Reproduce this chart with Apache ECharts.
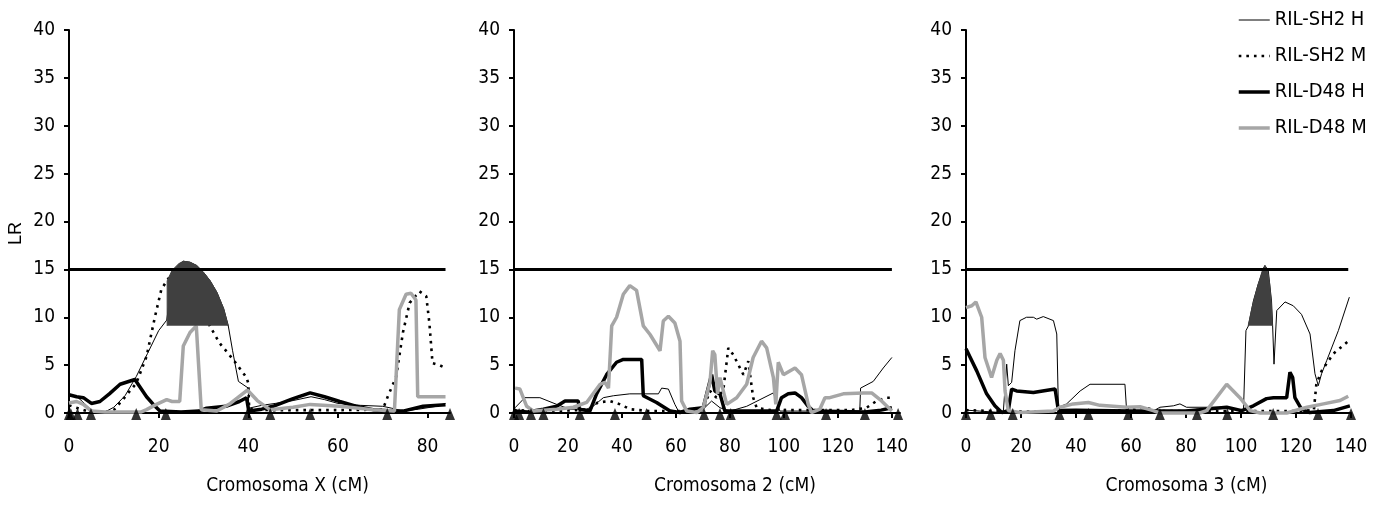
<!doctype html>
<html>
<head>
<meta charset="utf-8">
<title>LR - Cromosomas</title>
<style>
  html, body { margin: 0; padding: 0; background: #fff; }
  #main { width: 1379px; height: 509px; }
</style>
</head>
<body>
<div id="main"></div>
<script src="https://cdn.jsdelivr.net/npm/echarts@6/dist/echarts.min.js"></script>
<script>
// ---- data: [cM, LR] ----
var seriesNames = ['RIL-SH2 H', 'RIL-SH2 M', 'RIL-D48 H', 'RIL-D48 M'];
var axisNames = ['Cromosoma X (cM)', 'Cromosoma 2 (cM)', 'Cromosoma 3 (cM)'];
var threshold = 15;

// Cromosoma X
var chrX_SH2H = [[0,1.9],[1.5,1.8],[3,1.2],[5,0.3],[8,0.1],[10,0.6],[12.5,1.8],[15,3.8],[17.5,6.2],[20,8.6],[21.8,9.7],[23,13.8],[24.5,15.5],[25.5,15.85],[27,15.75],[28.5,15.4],[30,14.7],[31.5,13.8],[33,12.6],[34.5,10.9],[35.5,9.2],[36.5,6.5],[37.3,4.5],[37.8,3.3],[40,2.6],[40.1,0.5],[43,0.8],[46,1.0],[50,1.3],[54,1.7],[57,1.4],[60,1.0],[65,0.8],[70,0.7],[72,0.5],[74.5,0.2],[78,0.4],[82,0.7],[84,1.0]];
var chrX_SH2M = [[0,0.8],[2,0.5],[4,0.2],[8,0.1],[10,0.3],[12,1.4],[15,3.1],[17.3,5.9],[19.2,10.1],[20.6,12.9],[21.8,13.8],[24,15.2],[27,14.6],[29.5,11.5],[31.4,9.1],[33.6,7.3],[36.6,5.6],[39.6,3.7],[40,3.1],[40.2,0.4],[45,0.3],[54,0.3],[60,0.3],[70,0.35],[71.1,1.7],[73,3.8],[74.5,8.4],[76,11.5],[78.2,12.7],[79.7,12.2],[80.4,9.4],[81.1,5.2],[82.6,5.0],[84,4.7]];
var chrX_D48H = [[0,1.9],[1.7,1.7],[3.2,1.6],[5,1.0],[6.9,1.2],[9,2.0],[11.4,3.0],[14.7,3.5],[17.3,1.7],[19.2,0.7],[20.3,0.2],[25,0.1],[29,0.2],[30.7,0.5],[35,0.7],[38,1.2],[39.6,1.6],[40,1.5],[40.1,0.2],[43,0.4],[45.5,0.7],[50,1.5],[53.8,2.1],[57,1.7],[60.4,1.2],[64,0.7],[67.8,0.35],[72,0.2],[74.5,0.2],[79,0.7],[84,0.85]];
var chrX_D48M = [[0,1.05],[1.7,1.2],[3.2,0.9],[5,0.2],[8,0.1],[16,0.1],[17.3,0.35],[19.5,0.9],[21.8,1.4],[23,1.2],[24.7,1.2],[25.5,7.0],[27,8.4],[28.4,9.1],[29.5,0.35],[33,0.2],[36,1.0],[39.8,2.4],[42,1.3],[44.8,0.35],[50,0.6],[53.8,0.9],[60.4,0.7],[67.8,0.35],[72.6,0.2],[73.7,10.8],[75.2,12.4],[76.3,12.5],[77.4,11.8],[77.8,1.7],[84,1.7]];
var chrX_peak = [[21.9,9.1],[21.9,13.8],[23,14.9],[24.5,15.6],[25.5,15.85],[27,15.75],[28.5,15.4],[30,14.7],[31.5,13.8],[33,12.6],[34.5,10.9],[35.5,9.1]];
var chrX_markers = [0, 0.4, 1.9, 4.9, 15, 21.6, 39.8, 44.9, 53.8, 71, 85];

// Cromosoma 2
var chr2_SH2H = [[0,0.3],[0.4,0.55],[4,1.6],[9.6,1.6],[15.8,0.9],[20.7,0.4],[26.9,0.4],[29.3,0.7],[33.1,1.6],[36.8,1.8],[42.9,2.0],[53.5,2.0],[54.7,2.6],[57.2,2.5],[59.6,0.9],[60.9,0.2],[70.1,0.4],[73.2,1.25],[76.3,0.55],[80,0.2],[86.2,0.7],[96.1,2.1],[98.5,0.2],[110,0.2],[128.1,0.2],[128.4,2.6],[133.1,3.3],[136.8,4.7],[140,5.8]];
var chr2_SH2M = [[0,0.3],[10,0.2],[25,0.3],[29,0.6],[31,1.1],[35.5,1.25],[39.3,0.9],[43,0.4],[50,0.2],[60,0.2],[70,0.3],[72.6,2.3],[75,1.6],[77.5,2.3],[79.4,6.8],[81.2,6.1],[85,4.0],[86.8,5.4],[88.6,1.6],[89.9,0.55],[95,0.3],[110,0.3],[125,0.3],[130.6,0.55],[134.3,1.25],[138,1.6],[140,1.6]];
var chr2_D48H = [[0,0.2],[5,0.1],[10.9,0.4],[15.8,0.7],[18.9,1.25],[23.8,1.25],[24.2,0.4],[28.1,0.2],[30.6,2],[34.3,4.0],[38,5.3],[40.5,5.6],[47.3,5.6],[47.9,1.8],[52.8,1.1],[57.8,0.2],[61.5,0.05],[65.2,0.4],[70.1,0.55],[73.2,4.0],[74.4,2.3],[76.3,2.0],[78.1,0.2],[97.3,0.2],[99.1,1.6],[101.6,2],[104.1,2.1],[106.5,1.6],[109,0.7],[110.9,0.2],[130,0.1],[136,0.3],[140,0.55]];
var chr2_D48M = [[0.4,2.6],[2.2,2.5],[4.7,0.7],[7.2,0.2],[15.8,0.4],[22,0.6],[26.9,1.1],[31.9,3],[33.7,3.2],[35,2.6],[36.2,9.1],[38,10],[40.5,12.4],[42.9,13.3],[45.4,12.8],[47.9,9.1],[50.4,8.2],[54.1,6.5],[55.3,9.6],[57.2,10.1],[59.6,9.4],[61.5,7.5],[62.1,1.25],[64,0.2],[67.7,0.05],[70.1,0.55],[72.6,3.2],[73.6,6.5],[74.4,6.1],[75.4,2],[76.3,3.7],[78.8,0.9],[82.5,1.6],[86.2,3],[88.6,5.8],[91.7,7.5],[93.6,6.8],[96.1,3.7],[97,0.9],[97.9,5.3],[98.5,5.3],[99.8,4.0],[104.1,4.7],[106.5,4.0],[109,0.9],[110.2,0.05],[113.3,0.4],[115.2,1.6],[117,1.6],[122,2.0],[129.4,2.1],[132.5,2.1],[135.6,1.4],[140,0.2]];
var chr2_markers = [0, 1.9, 6.3, 10.9, 24.4, 37.4, 49.1, 70.4, 76.3, 80.3, 97.3, 100.4, 115.6, 130, 142.3];

// Cromosoma 3
var chr3_SH2H = [[0,0.3],[5,0.2],[12.4,0.05],[13.6,0.25],[14.8,5.1],[15.4,2.85],[16.6,3.2],[17.8,6.5],[19.6,9.65],[22,10.0],[24.5,10.0],[25.7,9.8],[28.1,10.07],[31.8,9.65],[33,8.25],[33.6,0.6],[36.6,0.95],[41.5,2.3],[45.1,3.0],[57.8,3.0],[58.4,0.25],[68.1,0.2],[70.5,0.6],[75.4,0.75],[77.8,0.95],[80.2,0.6],[94.8,0.6],[100.9,0.25],[101.8,8.6],[102.7,9.1],[104.5,11.7],[106.3,13.5],[108.7,15.4],[109.9,14.9],[111.1,11.7],[111.5,9.1],[112,5.1],[113,10.7],[116,11.6],[119,11.2],[122,10.3],[125.1,8.25],[126.9,4.1],[128.1,2.85],[129.3,4.1],[131.2,5.5],[135.4,8.6],[139.4,12.1]];
var chr3_SH2M = [[0,0.3],[10,0.2],[20,0.15],[40,0.2],[60,0.3],[63,0.6],[66,0.5],[70,0.2],[100,0.2],[120,0.2],[126.5,0.3],[127.4,3.0],[129.3,4.4],[133.6,6.2],[139.4,7.6]];
var chr3_D48H = [[0,6.7],[3.9,4.4],[7.5,2.0],[10.5,0.75],[13,0.05],[15.4,0.25],[16.6,2.5],[18.4,2.3],[24.5,2.15],[32.4,2.5],[33,2.5],[33.6,0.25],[40,0.3],[60,0.2],[80,0.2],[94.8,0.6],[100.3,0.25],[104.5,0.75],[109.3,1.5],[111.8,1.6],[116.6,1.6],[117.8,4.25],[118.8,3.7],[119.6,1.6],[122,0.4],[125,0.05],[133.6,0.25],[139.6,0.75]];
var chr3_D48M = [[0,11.0],[2.1,11.2],[3.6,11.6],[5.7,10.0],[6.9,5.8],[9.3,3.7],[11.2,5.5],[12.4,6.2],[13.6,5.5],[14.2,2.3],[15.4,0.25],[19.6,0.05],[31.8,0.2],[34.2,0.6],[39,0.95],[44.5,1.1],[48.7,0.8],[58.4,0.6],[63.3,0.65],[68.1,0.25],[70.5,0],[85,0],[87.5,0.25],[94.8,3.0],[99.6,1.6],[103.3,0.25],[107,0],[116.6,0],[124,0.6],[130,0.95],[136,1.3],[139,1.75]];
var chr3_peak = [[102.6,9.1],[104,11],[106,13.2],[108,15.1],[108.7,15.4],[109.6,15],[110.4,13.5],[111,11.5],[111.4,9.1]];
var chr3_markers = [0, 9, 17, 34, 44.5, 59, 70.5, 84, 95, 111.7, 128, 140];

var panels = [
  { name: axisNames[0], max: 85,  lineEnd: 84,  left: 69,  width: 381, showMax: false,
    lines: [chrX_SH2H, chrX_SH2M, chrX_D48H, chrX_D48M], peak: chrX_peak, markers: chrX_markers },
  { name: axisNames[1], max: 143, lineEnd: 140, left: 514, width: 386, showMax: false,
    lines: [chr2_SH2H, chr2_SH2M, chr2_D48H, chr2_D48M], peak: null, markers: chr2_markers },
  { name: axisNames[2], max: 140, lineEnd: 139, left: 966, width: 385, showMax: true,
    lines: [chr3_SH2H, chr3_SH2M, chr3_D48H, chr3_D48M], peak: chr3_peak, markers: chr3_markers }
];

var FONT = "'Liberation Sans Narrow', 'Arial Narrow', 'DejaVu Sans Condensed', 'Liberation Sans', sans-serif";
var lineStyles = [
  { color: '#000', width: 1 },
  { color: '#000', width: 2.6, type: [2.6, 5] },
  { color: '#000', width: 3.5 },
  { color: '#a6a6a6', width: 3.5 }
];

var grids = [], xAxes = [], yAxes = [], series = [];

panels.forEach(function (p, i) {
  grids.push({ left: p.left, width: p.width, top: 30, height: 383, containLabel: false });
  xAxes.push({
    type: 'value', gridIndex: i, min: 0, max: p.max, interval: 20,
    name: p.name, nameLocation: 'middle', nameGap: 64,
    nameTextStyle: { fontFamily: FONT, fontSize: 19, color: '#000', padding: [0, 0, 0, 56] },
    axisLine: { show: true, lineStyle: { color: '#000', width: 2 } },
    axisTick: { show: true, inside: false, length: 5, lineStyle: { color: '#000', width: 2 } },
    axisLabel: { fontFamily: FONT, fontSize: 19, color: '#000', margin: 25, showMaxLabel: p.showMax },
    splitLine: { show: false }
  });
  yAxes.push({
    type: 'value', gridIndex: i, min: 0, max: 40, interval: 5,
    name: i === 0 ? 'LR' : '', nameLocation: 'middle', nameGap: 44, nameRotate: 90,
    nameTextStyle: { fontFamily: "'Liberation Sans', sans-serif", fontSize: 18, color: '#000', padding: [0, 24, 0, 0] },
    axisLine: { show: true, lineStyle: { color: '#000', width: 2 } },
    axisTick: { show: true, inside: false, length: 5, lineStyle: { color: '#000', width: 2 } },
    axisLabel: { fontFamily: FONT, fontSize: 19, color: '#000', margin: 14 },
    splitLine: { show: false }
  });

  p.lines.forEach(function (d, k) {
    series.push({
      type: 'line', name: seriesNames[k], xAxisIndex: i, yAxisIndex: i,
      data: d, symbol: 'none', showSymbol: false, clip: false, silent: true,
      lineStyle: lineStyles[k], itemStyle: { color: lineStyles[k].color }, z: 2 + k
    });
  });

  if (p.peak) {
    series.push({
      type: 'line', name: 'intervalo', xAxisIndex: i, yAxisIndex: i,
      data: p.peak, symbol: 'none', clip: false, silent: true,
      lineStyle: { color: '#404040', width: 1 },
      areaStyle: { color: '#404040', opacity: 1, origin: 9.1 }, z: 8
    });
  }

  series.push({
    type: 'line', name: 'umbral', xAxisIndex: i, yAxisIndex: i,
    data: [[0, threshold], [p.lineEnd, threshold]], symbol: 'none', clip: false, silent: true,
    lineStyle: { color: '#000', width: 3 }, z: 9
  });

  series.push({
    type: 'scatter', name: 'marcadores', xAxisIndex: i, yAxisIndex: i,
    data: p.markers.map(function (m) { return [m, 0]; }),
    symbol: 'triangle', symbolSize: [10, 12], symbolOffset: [0, 1], clip: false, silent: true,
    itemStyle: { color: '#000' }, z: 10
  });
});

var chart = echarts.init(document.getElementById('main'), null, { renderer: 'canvas' });
chart.setOption({
  animation: false,
  backgroundColor: '#fff',
  legend: {
    data: seriesNames, orient: 'vertical', left: 1232, top: 4,
    itemWidth: 31, itemHeight: 14, itemGap: 14, selectedMode: false,
    itemStyle: { opacity: 0 },
    lineStyle: { width: 'inherit', opacity: 1 },
    textStyle: { fontFamily: FONT, fontSize: 20, color: '#000', lineHeight: 22 }
  },
  grid: grids,
  xAxis: xAxes,
  yAxis: yAxes,
  series: series
});
</script>
</body>
</html>
